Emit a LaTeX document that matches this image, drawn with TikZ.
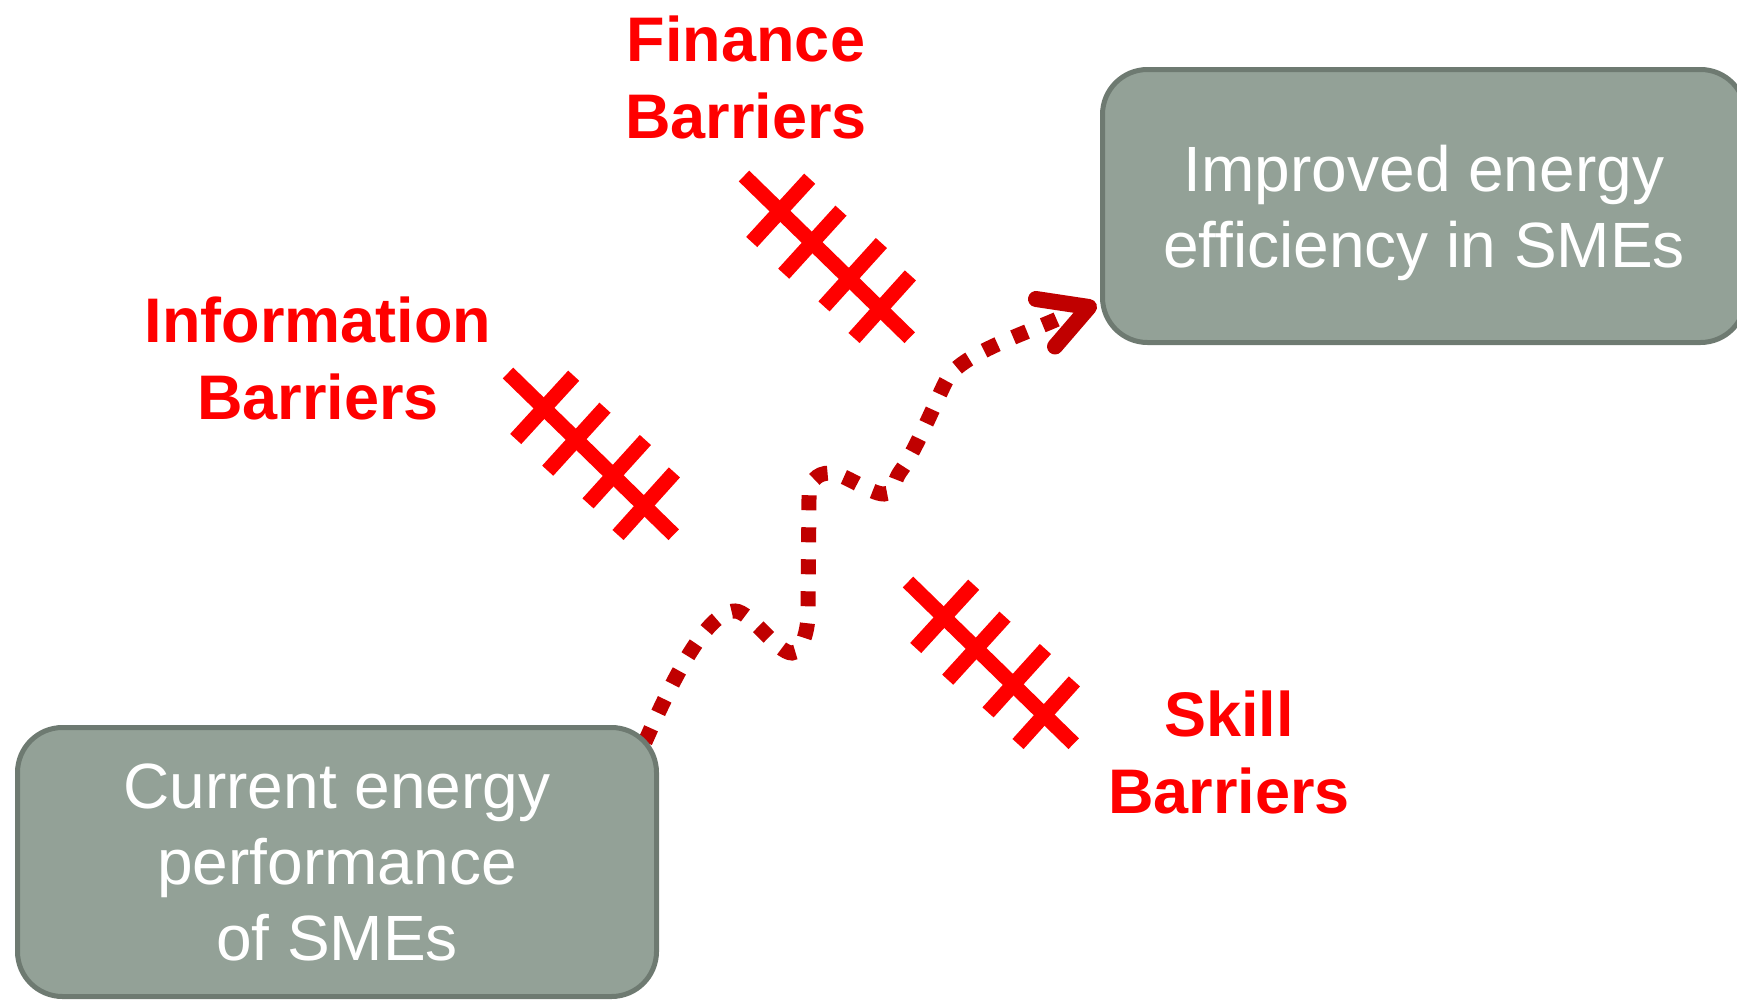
\documentclass[tikz,border=0pt]{standalone}
\usepackage{fontspec}
\setmainfont{Liberation Sans}
\usetikzlibrary{backgrounds,calc}
\definecolor{boxfill}{HTML}{93A197}
\definecolor{boxline}{HTML}{6E7A71}
\definecolor{pathred}{HTML}{C00000}
\definecolor{barred}{HTML}{FF0000}
\begin{document}
\begin{tikzpicture}[x=1pt,y=-1pt,
  box/.style={draw=boxline, line width=5pt, fill=boxfill, rounded corners=45pt,
    text=white, align=center, font=\fontsize{64}{76}\selectfont, inner sep=0pt},
  barlabel/.style={text=barred, align=center, font=\fontsize{63}{77}\selectfont\bfseries, inner sep=0pt},
  barline/.style={draw=barred, line width=15pt, line cap=butt},
  dotline/.style={draw=pathred, line width=15pt, dash pattern=on 15pt off 17pt},
  headline/.style={draw=pathred, line width=16pt, line cap=round, line join=round},
  barrier/.pic={
    \draw[barline] (0,0) -- (165.7,161.7);
    \draw[barline] (7.7,66) -- (65.7,2.7);
    \draw[barline] (39.7,97.7) -- (97,34.7);
    \draw[barline] (80,130.4) -- (137.4,67);
    \draw[barline] (110,162) -- (166.4,99.4);
  }]
\useasboundingbox (0,0) rectangle (1737,999);

% boxes
\node[box, text depth=-4pt, minimum width=643pt, minimum height=273pt] (goal) at (1424,206) {Improved energy\\efficiency in SMEs};
\node[box, text depth=-6pt, minimum width=639pt, minimum height=269pt] (now) at (337,862) {Current energy\\performance\\of SMEs};

% barrier labels
\node[barlabel] (fin) at (746,77.5) {Finance\\Barriers};
\node[barlabel] (info) at (318,358.5) {Information\\Barriers};
\node[barlabel] (skill) at (1229,752.5) {Skill\\Barriers};

% barrier crosses
\pic (finx) at (744,176) {barrier};
\pic (infx) at (508,373) {barrier};
\pic (skix) at (908,582) {barrier};

% path from current to improved
\coordinate (start) at ($(now.north east)+(-14,17)$);
\coordinate (tip) at ($(goal.west)+(-11,101)$);
\coordinate (pend) at ($(tip)+(-27,10)$);
\begin{scope}[on background layer]
\draw[dotline] (start) .. controls (668,690) and (705,611) .. (735,611)
  .. controls (750,611) and (777,653) .. (792,653)
  .. controls (802,653) and (808,629) .. (808,615)
  -- (809,498)
  .. controls (809,482) and (816,473) .. (830,473)
  .. controls (844,473) and (870,494) .. (884,494)
  .. controls (894,494) and (894,480) .. (900,472)
  .. controls (915,452) and (935,403) .. (946,381)
  .. controls (959,354) and (1030,332) .. (pend);
\draw[headline] ($(tip)+(-53,-8)$) -- (tip) -- ($(tip)+(-34,39.5)$);
\end{scope}
\end{tikzpicture}
\end{document}
